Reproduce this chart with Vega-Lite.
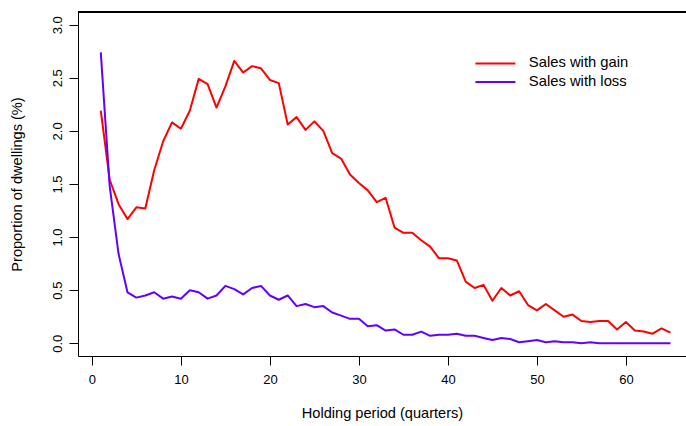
{
  "$schema": "https://vega.github.io/schema/vega-lite/v6.json",
  "autosize": {"type": "none"},
  "width": 608,
  "height": 344,
  "padding": {"left": 78, "top": 12, "right": 0, "bottom": 70},
  "background": "white",
  "config": {
    "view": {"stroke": null},
    "font": "Liberation Sans",
    "axis": {
      "grid": false,
      "domainColor": "black",
      "domainWidth": 1,
      "tickColor": "black",
      "tickWidth": 1,
      "tickSize": 9,
      "labelFont": "Liberation Sans",
      "labelFontSize": 13,
      "labelColor": "black",
      "titleFont": "Liberation Sans",
      "titleFontSize": 14.6,
      "titleFontWeight": "normal",
      "titleColor": "black"
    },
    "legend": {
      "labelFont": "Liberation Sans",
      "labelFontSize": 14.8,
      "labelColor": "black"
    }
  },
  "data": {
    "values": [
      {"q": 1, "series": "Sales with gain", "p": 2.19},
      {"q": 2, "series": "Sales with gain", "p": 1.54},
      {"q": 3, "series": "Sales with gain", "p": 1.31},
      {"q": 4, "series": "Sales with gain", "p": 1.17},
      {"q": 5, "series": "Sales with gain", "p": 1.28},
      {"q": 6, "series": "Sales with gain", "p": 1.27},
      {"q": 7, "series": "Sales with gain", "p": 1.63},
      {"q": 8, "series": "Sales with gain", "p": 1.90},
      {"q": 9, "series": "Sales with gain", "p": 2.08},
      {"q": 10, "series": "Sales with gain", "p": 2.02},
      {"q": 11, "series": "Sales with gain", "p": 2.19},
      {"q": 12, "series": "Sales with gain", "p": 2.49},
      {"q": 13, "series": "Sales with gain", "p": 2.44},
      {"q": 14, "series": "Sales with gain", "p": 2.22},
      {"q": 15, "series": "Sales with gain", "p": 2.42},
      {"q": 16, "series": "Sales with gain", "p": 2.66},
      {"q": 17, "series": "Sales with gain", "p": 2.55},
      {"q": 18, "series": "Sales with gain", "p": 2.61},
      {"q": 19, "series": "Sales with gain", "p": 2.59},
      {"q": 20, "series": "Sales with gain", "p": 2.48},
      {"q": 21, "series": "Sales with gain", "p": 2.45},
      {"q": 22, "series": "Sales with gain", "p": 2.06},
      {"q": 23, "series": "Sales with gain", "p": 2.13},
      {"q": 24, "series": "Sales with gain", "p": 2.01},
      {"q": 25, "series": "Sales with gain", "p": 2.09},
      {"q": 26, "series": "Sales with gain", "p": 2.00},
      {"q": 27, "series": "Sales with gain", "p": 1.79},
      {"q": 28, "series": "Sales with gain", "p": 1.74},
      {"q": 29, "series": "Sales with gain", "p": 1.59},
      {"q": 30, "series": "Sales with gain", "p": 1.51},
      {"q": 31, "series": "Sales with gain", "p": 1.44},
      {"q": 32, "series": "Sales with gain", "p": 1.33},
      {"q": 33, "series": "Sales with gain", "p": 1.37},
      {"q": 34, "series": "Sales with gain", "p": 1.09},
      {"q": 35, "series": "Sales with gain", "p": 1.04},
      {"q": 36, "series": "Sales with gain", "p": 1.04},
      {"q": 37, "series": "Sales with gain", "p": 0.97},
      {"q": 38, "series": "Sales with gain", "p": 0.91},
      {"q": 39, "series": "Sales with gain", "p": 0.80},
      {"q": 40, "series": "Sales with gain", "p": 0.80},
      {"q": 41, "series": "Sales with gain", "p": 0.78},
      {"q": 42, "series": "Sales with gain", "p": 0.58},
      {"q": 43, "series": "Sales with gain", "p": 0.52},
      {"q": 44, "series": "Sales with gain", "p": 0.55},
      {"q": 45, "series": "Sales with gain", "p": 0.40},
      {"q": 46, "series": "Sales with gain", "p": 0.52},
      {"q": 47, "series": "Sales with gain", "p": 0.45},
      {"q": 48, "series": "Sales with gain", "p": 0.49},
      {"q": 49, "series": "Sales with gain", "p": 0.36},
      {"q": 50, "series": "Sales with gain", "p": 0.31},
      {"q": 51, "series": "Sales with gain", "p": 0.37},
      {"q": 52, "series": "Sales with gain", "p": 0.31},
      {"q": 53, "series": "Sales with gain", "p": 0.25},
      {"q": 54, "series": "Sales with gain", "p": 0.27},
      {"q": 55, "series": "Sales with gain", "p": 0.21},
      {"q": 56, "series": "Sales with gain", "p": 0.20},
      {"q": 57, "series": "Sales with gain", "p": 0.21},
      {"q": 58, "series": "Sales with gain", "p": 0.21},
      {"q": 59, "series": "Sales with gain", "p": 0.13},
      {"q": 60, "series": "Sales with gain", "p": 0.20},
      {"q": 61, "series": "Sales with gain", "p": 0.12},
      {"q": 62, "series": "Sales with gain", "p": 0.11},
      {"q": 63, "series": "Sales with gain", "p": 0.09},
      {"q": 64, "series": "Sales with gain", "p": 0.14},
      {"q": 65, "series": "Sales with gain", "p": 0.10},
      {"q": 1, "series": "Sales with loss", "p": 2.74},
      {"q": 2, "series": "Sales with loss", "p": 1.48},
      {"q": 3, "series": "Sales with loss", "p": 0.84},
      {"q": 4, "series": "Sales with loss", "p": 0.48},
      {"q": 5, "series": "Sales with loss", "p": 0.43},
      {"q": 6, "series": "Sales with loss", "p": 0.45},
      {"q": 7, "series": "Sales with loss", "p": 0.48},
      {"q": 8, "series": "Sales with loss", "p": 0.42},
      {"q": 9, "series": "Sales with loss", "p": 0.44},
      {"q": 10, "series": "Sales with loss", "p": 0.42},
      {"q": 11, "series": "Sales with loss", "p": 0.50},
      {"q": 12, "series": "Sales with loss", "p": 0.48},
      {"q": 13, "series": "Sales with loss", "p": 0.42},
      {"q": 14, "series": "Sales with loss", "p": 0.45},
      {"q": 15, "series": "Sales with loss", "p": 0.54},
      {"q": 16, "series": "Sales with loss", "p": 0.51},
      {"q": 17, "series": "Sales with loss", "p": 0.46},
      {"q": 18, "series": "Sales with loss", "p": 0.52},
      {"q": 19, "series": "Sales with loss", "p": 0.54},
      {"q": 20, "series": "Sales with loss", "p": 0.45},
      {"q": 21, "series": "Sales with loss", "p": 0.41},
      {"q": 22, "series": "Sales with loss", "p": 0.45},
      {"q": 23, "series": "Sales with loss", "p": 0.35},
      {"q": 24, "series": "Sales with loss", "p": 0.37},
      {"q": 25, "series": "Sales with loss", "p": 0.34},
      {"q": 26, "series": "Sales with loss", "p": 0.35},
      {"q": 27, "series": "Sales with loss", "p": 0.29},
      {"q": 28, "series": "Sales with loss", "p": 0.26},
      {"q": 29, "series": "Sales with loss", "p": 0.23},
      {"q": 30, "series": "Sales with loss", "p": 0.23},
      {"q": 31, "series": "Sales with loss", "p": 0.16},
      {"q": 32, "series": "Sales with loss", "p": 0.17},
      {"q": 33, "series": "Sales with loss", "p": 0.12},
      {"q": 34, "series": "Sales with loss", "p": 0.13},
      {"q": 35, "series": "Sales with loss", "p": 0.08},
      {"q": 36, "series": "Sales with loss", "p": 0.08},
      {"q": 37, "series": "Sales with loss", "p": 0.11},
      {"q": 38, "series": "Sales with loss", "p": 0.07},
      {"q": 39, "series": "Sales with loss", "p": 0.08},
      {"q": 40, "series": "Sales with loss", "p": 0.08},
      {"q": 41, "series": "Sales with loss", "p": 0.09},
      {"q": 42, "series": "Sales with loss", "p": 0.07},
      {"q": 43, "series": "Sales with loss", "p": 0.07},
      {"q": 44, "series": "Sales with loss", "p": 0.05},
      {"q": 45, "series": "Sales with loss", "p": 0.03},
      {"q": 46, "series": "Sales with loss", "p": 0.05},
      {"q": 47, "series": "Sales with loss", "p": 0.04},
      {"q": 48, "series": "Sales with loss", "p": 0.01},
      {"q": 49, "series": "Sales with loss", "p": 0.02},
      {"q": 50, "series": "Sales with loss", "p": 0.03},
      {"q": 51, "series": "Sales with loss", "p": 0.01},
      {"q": 52, "series": "Sales with loss", "p": 0.02},
      {"q": 53, "series": "Sales with loss", "p": 0.01},
      {"q": 54, "series": "Sales with loss", "p": 0.01},
      {"q": 55, "series": "Sales with loss", "p": 0.00},
      {"q": 56, "series": "Sales with loss", "p": 0.01},
      {"q": 57, "series": "Sales with loss", "p": 0.00},
      {"q": 58, "series": "Sales with loss", "p": 0.00},
      {"q": 59, "series": "Sales with loss", "p": 0.00},
      {"q": 60, "series": "Sales with loss", "p": 0.00},
      {"q": 61, "series": "Sales with loss", "p": 0.00},
      {"q": 62, "series": "Sales with loss", "p": 0.00},
      {"q": 63, "series": "Sales with loss", "p": 0.00},
      {"q": 64, "series": "Sales with loss", "p": 0.00},
      {"q": 65, "series": "Sales with loss", "p": 0.00}
    ]
  },
  "layer": [
    {
      "mark": {"type": "line", "strokeWidth": 2, "strokeJoin": "round", "clip": true},
      "encoding": {
        "x": {
          "field": "q",
          "type": "quantitative",
          "scale": {"domain": [-1.56, 66.75], "nice": false, "zero": false},
          "axis": {
            "values": [0, 10, 20, 30, 40, 50, 60],
            "title": "Holding period (quarters)",
            "labelPadding": 8,
            "titlePadding": 19,
            "labelFlush": false
          }
        },
        "y": {
          "field": "p",
          "type": "quantitative",
          "scale": {"domain": [-0.12, 3.12], "nice": false, "zero": false},
          "axis": {
            "values": [0, 0.5, 1, 1.5, 2, 2.5, 3],
            "format": ".1f",
            "labelAngle": 270,
            "labelAlign": "center",
            "labelBaseline": "bottom",
            "labelPadding": 5,
            "title": "Proportion of dwellings (%)",
            "titlePadding": 27,
            "labelFlush": false
          }
        },
        "color": {
          "field": "series",
          "type": "nominal",
          "scale": {"domain": ["Sales with gain", "Sales with loss"], "range": ["#ff0000", "#6400ff"]},
          "legend": {
            "title": null,
            "orient": "none",
            "legendX": 410,
            "legendY": 44,
            "symbolType": "M-4,0H4",
            "symbolSize": 100,
            "symbolStrokeWidth": 2,
            "labelOffset": 26,
            "padding": 0,
            "rowPadding": 2.6
          }
        }
      }
    },
    {
      "mark": {"type": "rule", "color": "black", "strokeWidth": 1},
      "encoding": {"y": {"datum": 3.12}}
    }
  ]
}
